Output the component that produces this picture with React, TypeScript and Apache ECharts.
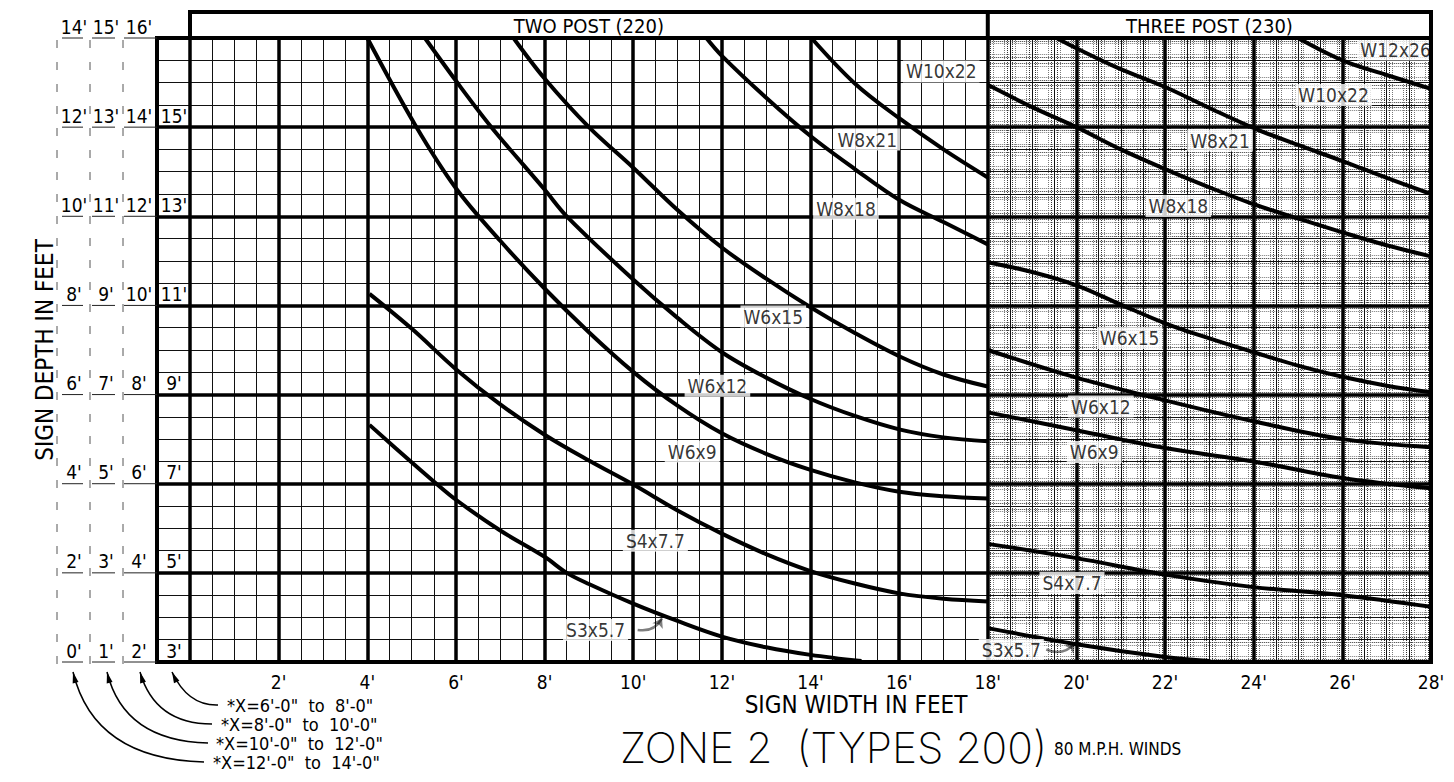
import React, { useEffect, useRef } from "react";
import * as echarts from "echarts";

const FONT = "'DejaVu Sans Condensed', 'Liberation Sans Narrow', 'Roboto Condensed', 'DejaVu Sans', sans-serif";
const THIN_FONT = "Inter, 'Open Sans', 'Noto Sans', sans-serif";

// ---- axis / tick data ----
const xTickValues = [2, 4, 6, 8, 10, 12, 14, 16, 18, 20, 22, 24, 26, 28];
const depthRows = [0, 2, 4, 6, 8, 10, 12, 14];
const depthColumnOffsets = [0, 1, 2, 3];
const widthRanges = [
  '*X=6\'-0"  to  8\'-0"',
  '*X=8\'-0"  to  10\'-0"',
  '*X=10\'-0"  to  12\'-0"',
  '*X=12\'-0"  to  14\'-0"',
];

// ---- two post (220) boundary curves [width ft, depth ft] ----
const twoPostCurve1 = [[14.02, 14], [15, 12.98], [16, 12.2], [17, 11.5], [18, 10.87]];
const twoPostCurve2 = [[11.65, 14], [12, 13.6], [13, 12.66], [14, 11.8], [15, 11.06], [16, 10.37], [17, 9.87], [18, 9.37]];
const twoPostCurve3 = [[7.3, 14], [8, 13.09], [9, 12], [10, 11.09], [11, 10.14], [12, 9.3], [13, 8.6], [14, 7.96], [15, 7.38], [16, 6.86], [17, 6.45], [18, 6.18]];
const twoPostCurve4 = [[5.3, 14], [6, 13.04], [6.8, 12], [8, 10.6], [8.5, 10], [10, 8.58], [11, 7.72], [12, 6.95], [13, 6.38], [14, 5.9], [15, 5.52], [16, 5.22], [17, 5.04], [18, 4.95]];
const twoPostCurve5 = [[4, 14], [5.08, 12.05], [6, 10.63], [7, 9.45], [8, 8.38], [9, 7.4], [10, 6.51], [11, 5.75], [12, 5.13], [13, 4.67], [14, 4.31], [15, 4.03], [16, 3.82], [17, 3.72], [18, 3.67]];
const twoPostCurve6 = [[4.05, 8.26], [5, 7.48], [6, 6.57], [7, 5.78], [8, 5.1], [9, 4.52], [10, 3.98], [11, 3.4], [12, 2.88], [13, 2.42], [14, 2.04], [15, 1.76], [16, 1.54], [17, 1.42], [18, 1.36]];
const twoPostCurve7 = [[4.05, 5.32], [5, 4.48], [5.5, 4.05], [6, 3.64], [7, 2.95], [8, 2.36], [8.5, 2.0], [9, 1.75], [10, 1.31], [11, 0.92], [12, 0.57], [13, 0.33], [14, 0.16], [15.15, 0.02]];

// ---- three post (230) boundary curves ----
const threePostCurve1 = [[25.0, 14], [26, 13.5], [27, 13.17], [28, 12.86]];
const threePostCurve2 = [[19.55, 14], [20, 13.77], [21, 13.3], [22, 12.9], [23, 12.43], [24, 11.98], [25, 11.6], [26, 11.24], [27, 10.86], [28, 10.5]];
const threePostCurve3 = [[18, 12.95], [19, 12.45], [20, 12.0], [21, 11.5], [22, 11.06], [23, 10.65], [24, 10.27], [25, 9.95], [26, 9.64], [27, 9.35], [28, 9.1]];
const threePostCurve4 = [[18, 8.97], [19, 8.75], [20, 8.45], [21, 8.02], [22, 7.6], [23, 7.26], [24, 6.95], [25, 6.65], [26, 6.4], [27, 6.2], [28, 6.05]];
const threePostCurve5 = [[18, 7.0], [20, 6.38], [22, 5.87], [24, 5.4], [26, 5.0], [28, 4.82]];
const threePostCurve6 = [[18, 5.6], [20, 5.2], [22, 4.8], [24, 4.5], [26, 4.13], [28, 3.9]];
const threePostCurve7 = [[18, 2.65], [20, 2.33], [22, 1.96], [24, 1.68], [26, 1.5], [28, 1.24]];
const threePostCurve8 = [[18, 0.76], [20, 0.4], [22, 0.11], [23, 0.02]];

// ---- post size labels [name, width ft, depth ft] ----
const twoPostLabels: [string, number, number][] = [
  ["W10x22", 16.95, 13.25],
  ["W8x21", 15.28, 11.72],
  ["W8x18", 14.8, 10.17],
  ["W6x15", 13.16, 7.75],
  ["W6x12", 11.9, 6.2],
  ["W6x9", 11.33, 4.72],
  ["S4x7.7", 10.5, 2.72],
  ["S3x5.7", 9.15, 0.72],
];
const threePostLabels: [string, number, number][] = [
  ["W12x26", 27.2, 13.74],
  ["W10x22", 25.8, 12.72],
  ["W8x21", 23.24, 11.7],
  ["W8x18", 22.3, 10.23],
  ["W6x15", 21.2, 7.27],
  ["W6x12", 20.55, 5.73],
  ["W6x9", 20.4, 4.71],
  ["S4x7.7", 19.9, 1.77],
  ["S3x5.7", 18.53, 0.27],
];
const labelPointers = [
  [[10.1, 0.72], [10.65, 0.98]],
  [[19.32, 0.28], [19.97, 0.42]],
];

const allCurves = [
  twoPostCurve1, twoPostCurve2, twoPostCurve3, twoPostCurve4, twoPostCurve5, twoPostCurve6, twoPostCurve7,
  threePostCurve1, threePostCurve2, threePostCurve3, threePostCurve4, threePostCurve5, threePostCurve6, threePostCurve7, threePostCurve8,
];

const T = "rgba(0,0,0,0)";

export default function App() {
  const ref = useRef<HTMLDivElement>(null);
  useEffect(() => {
    document.body.style.margin = "0";
    const chart = echarts.init(ref.current!, null, { renderer: "svg" });
    const thin = { show: true, lineStyle: { color: "#111", width: 1 } };
    const thick = { show: true, lineStyle: { color: "#000", width: 3.5 } };
    const texture = {
      show: true,
      lineStyle: { color: [T, "#333", "#777", T, T, T, "#777", "#333"], width: 1, type: [1, 1] },
    };
    const hidden = { axisLine: { show: false }, axisTick: { show: false }, axisLabel: { show: false } };
    const option: any = {
      animation: false,
      backgroundColor: "#fff",
      grid: [
        { left: 157, width: 33, top: 38, height: 624 },
        { left: 190, width: 1241, top: 38, height: 624 },
        { left: 190 + (18 * 1241) / 28, width: (10 * 1241) / 28, top: 38, height: 624 },
      ],
      xAxis: [
        { gridIndex: 0, type: "value", min: 0, max: 1, show: false },
        {
          gridIndex: 1, type: "value", min: 0, max: 28, interval: 0.5, z: 1,
          axisLine: { show: false }, axisTick: { show: false }, splitLine: thin,
          axisLabel: {
            customValues: xTickValues, formatter: (v: number) => `${v}'`,
            fontSize: 19, fontFamily: FONT, color: "#000", margin: 10,
          },
        },
        { gridIndex: 1, type: "value", min: 0, max: 28, interval: 2, z: 2, ...hidden, splitLine: thick },
        { gridIndex: 2, type: "value", min: 18, max: 28, interval: 0.0625, z: 0, ...hidden, splitLine: texture },
      ],
      yAxis: [
        { gridIndex: 0, type: "value", min: 0, max: 14, interval: 0.5, z: 1, ...hidden, splitLine: thin },
        { gridIndex: 0, type: "value", min: 0, max: 14, interval: 2, z: 2, ...hidden, splitLine: thick },
        { gridIndex: 1, type: "value", min: 0, max: 14, interval: 0.5, z: 1, ...hidden, splitLine: thin },
        { gridIndex: 1, type: "value", min: 0, max: 14, interval: 2, z: 2, ...hidden, splitLine: thick },
        { gridIndex: 2, type: "value", min: 0, max: 14, interval: 0.0625, z: 0, ...hidden, splitLine: texture },
      ],
      series: [
        ...allCurves.map((d, i) => ({
          type: "line", name: `curve${i}`, xAxisIndex: 1, yAxisIndex: 2, data: d,
          smooth: 0.35, symbol: "none", lineStyle: { color: "#000", width: 4 }, z: 4, silent: true,
        })),
        {
          type: "lines", coordinateSystem: "cartesian2d", xAxisIndex: 1, yAxisIndex: 2, z: 7,
          symbol: ["none", "arrow"], symbolSize: 9,
          lineStyle: { color: "#000", width: 2.5, curveness: -0.35 },
          data: labelPointers.map((c) => ({ coords: c })),
        },
        {
          type: "scatter", xAxisIndex: 1, yAxisIndex: 2, z: 6, symbolSize: 1,
          itemStyle: { color: T },
          data: [...twoPostLabels, ...threePostLabels].map(([n, x, y]) => ({ name: n, value: [x, y] })),
          label: {
            show: true, position: "inside", formatter: "{b}", fontSize: 19, fontFamily: FONT,
            color: "#000", backgroundColor: "#fff", padding: [2, 3, 1, 3],
          },
        },
      ],
    };
    chart.setOption(option);

    const P = (x: number, y: number) => chart.convertToPixel({ xAxisIndex: 1, yAxisIndex: 2 }, [x, y]) as number[];
    const x0 = P(0, 0)[0];
    const x18 = P(18, 0)[0];
    const x28 = P(28, 0)[0];
    const yb = P(0, 0)[1];
    const yt = P(0, 14)[1];
    const stroke = { stroke: "#000", lineWidth: 4, fill: "none" };
    const g: any[] = [];
    // frame + header
    g.push({ type: "rect", shape: { x: 157, y: yt, width: x28 - 157, height: yb - yt }, style: stroke, z: 10 });
    g.push({ type: "rect", shape: { x: x0, y: 12, width: x28 - x0, height: yt - 12 }, style: stroke, z: 10 });
    g.push({ type: "line", shape: { x1: x18, y1: 12, x2: x18, y2: yt }, style: { stroke: "#000", lineWidth: 4 }, z: 10 });
    g.push({ type: "text", x: P(9, 0)[0], y: 26, style: { text: "TWO POST (220)", fontSize: 20, fontFamily: FONT, fill: "#000", align: "center", verticalAlign: "middle" }, z: 10 });
    g.push({ type: "text", x: P(23, 0)[0], y: 26, style: { text: "THREE POST (230)", fontSize: 20, fontFamily: FONT, fill: "#000", align: "center", verticalAlign: "middle" }, z: 10 });

    // left depth columns
    const colCenters = [74, 106, 139, 174];
    const underlines = [[62, 83], [92, 115], [124, 157]];
    [57, 90, 123].forEach((x) =>
      g.push({ type: "line", shape: { x1: x, y1: yt + 2, x2: x, y2: yb + 2 }, style: { stroke: "#555", lineWidth: 1, lineDash: [8, 14] }, z: 10 })
    );
    depthRows.forEach((v) => {
      const py = P(0, v)[1];
      depthColumnOffsets.forEach((k) => {
        if (v === 14 && k === 3) return;
        g.push({
          type: "text", x: colCenters[k], y: py - 2,
          style: { text: `${v + k}'`, fontSize: 19, fontFamily: FONT, fill: "#000", align: "center", verticalAlign: "bottom" }, z: 11,
        });
        if (k < 3) {
          g.push({ type: "line", shape: { x1: underlines[k][0], y1: py, x2: underlines[k][1], y2: py }, style: { stroke: "#222", lineWidth: 1 }, z: 11 });
        }
      });
    });
    g.push({
      type: "text", x: 45, y: P(0, 7)[1], rotation: Math.PI / 2,
      style: { text: "SIGN DEPTH IN FEET", fontSize: 24, fontFamily: FONT, fill: "#000", align: "center", verticalAlign: "middle" }, z: 11,
    });

    // bottom-left width-range arrows
    const arrowDefs = [
      { head: [172, 672], tail: [218, 705], cp: [188, 706] },
      { head: [140, 672], tail: [212, 724], cp: [155, 724] },
      { head: [107, 672], tail: [208, 743], cp: [124, 741] },
      { head: [73, 672], tail: [204, 762], cp: [94, 759] },
    ];
    const textX = [227, 221, 216, 213];
    arrowDefs.forEach((a, i) => {
      g.push({
        type: "bezierCurve",
        shape: { x1: a.head[0], y1: a.head[1], x2: a.tail[0], y2: a.tail[1], cpx1: a.cp[0], cpy1: a.cp[1] },
        style: { stroke: "#000", lineWidth: 1.5, fill: "none" }, z: 11,
      });
      const dx = a.head[0] - a.cp[0];
      const dy = a.head[1] - a.cp[1];
      const L = Math.hypot(dx, dy);
      const ux = dx / L, uy = dy / L;
      const bx = a.head[0] - ux * 11, by = a.head[1] - uy * 11;
      g.push({
        type: "polygon",
        shape: { points: [[a.head[0], a.head[1]], [bx - uy * 3, by + ux * 3], [bx + uy * 3, by - ux * 3]] },
        style: { fill: "#000" }, z: 11,
      });
      g.push({
        type: "text", x: textX[i], y: a.tail[1],
        style: { text: widthRanges[i], fontSize: 18, fontFamily: FONT, fill: "#000", align: "left", verticalAlign: "middle" }, z: 11,
      });
    });

    // bottom titles
    g.push({ type: "text", x: 856, y: 705, style: { text: "SIGN WIDTH IN FEET", fontSize: 24, fontFamily: FONT, fill: "#000", align: "center", verticalAlign: "middle" }, z: 11 });
    g.push({ type: "text", x: 620, y: 747, style: { text: "ZONE 2  (TYPES 200)", fontSize: 42.5, fontWeight: 200, fontFamily: THIN_FONT, fill: "#000", align: "left", verticalAlign: "middle" }, z: 11 });
    g.push({ type: "text", x: 1054, y: 749, style: { text: "80 M.P.H. WINDS", fontSize: 17, fontFamily: FONT, fill: "#000", align: "left", verticalAlign: "middle" }, z: 11 });

    chart.setOption({ graphic: g });
    return () => chart.dispose();
  }, []);
  return <div ref={ref} style={{ width: 1454, height: 782 }} />;
}
